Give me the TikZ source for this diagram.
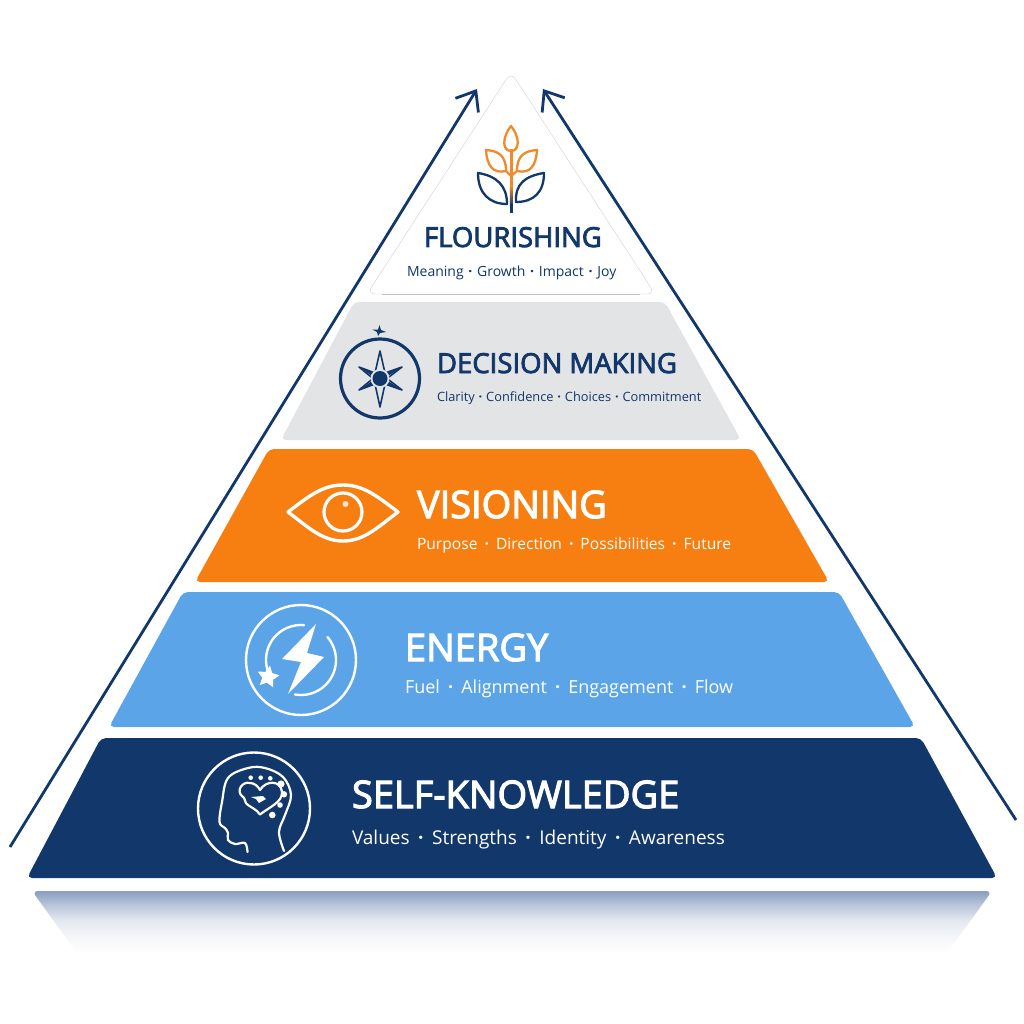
\documentclass[tikz,border=0pt]{standalone}
\usepackage{fontspec}
\setmainfont{Open Sans}
\newfontfamily\semifont[FakeBold=3]{Open Sans}
\usepackage{xcolor}
\usetikzlibrary{shapes.geometric, arrows.meta, positioning}

\definecolor{navyblue}{HTML}{12376A}
\definecolor{skyblue}{HTML}{5BA4E8}
\definecolor{sunorange}{HTML}{F77E10}
\definecolor{plantorange}{HTML}{F08A2A}
\definecolor{stonegray}{HTML}{E3E4E6}
\definecolor{mirrorblue}{HTML}{8A9EC0}

\pgfdeclareverticalshading{mirrorshade}{100bp}{color(0bp)=(white); color(30bp)=(white); color(43bp)=(mirrorblue!10); color(54bp)=(mirrorblue!24); color(65bp)=(mirrorblue!60); color(75bp)=(mirrorblue); color(100bp)=(mirrorblue)}

\tikzset{
    layer/.style={rounded corners=5pt},
    title/.style={anchor=base west, inner sep=0pt, outer sep=0pt},
    subtitle/.style={anchor=base west, inner sep=0pt, outer sep=0pt},
    climb/.style={draw=navyblue, line width=2.8pt, -{Straight Barb[length=17pt, width=27pt, line width=2.8pt]}},
    iconline/.style={line width=#1, line cap=round, line join=round},
    iconline/.default=2.6pt
}

\newcommand{\dotsep}[1][0.45em]{\hspace{#1}\textbf{·}\hspace{#1}}

\begin{document}
\begin{tikzpicture}[x=1pt, y=-1pt]
    \useasboundingbox (0,0) rectangle (1024,1024);

    \shade [shading=mirrorshade, rounded corners=6pt] (32,891) -- (992,891) -- (942,960) -- (82,960) -- cycle;

    \coordinate (leftfoot) at (10,847);
    \coordinate (lefthead) at (477,89);
    \coordinate (rightfoot) at (1016,820);
    \coordinate (righthead) at (543,89);
    \draw [climb] (leftfoot) -- (lefthead);
    \draw [climb] (rightfoot) -- (righthead);

    \draw [rounded corners=8pt, draw=black!18, fill=white] (511,72) -- (655,294) -- (367,294) -- cycle;
    \draw [black!24, line width=0.8pt] (382,294) -- (640,294);
    \fill [layer, stonegray] (354,302) -- (665,302) -- (741,440) -- (281,440) -- cycle;
    \fill [layer, sunorange] (269,449) -- (753,449) -- (829,582) -- (195,582) -- cycle;
    \fill [layer, skyblue] (183,592) -- (839,592) -- (915,727) -- (109,727) -- cycle;
    \fill [layer, navyblue] (101,738) -- (921,738) -- (997,878) -- (27,878) -- cycle;

    \node (flourishing) [title, text=navyblue, font=\semifont\fontsize{27.5}{30}\selectfont] at (424,247) {FLOURISHING};
    \node (flourishingsub) [subtitle, text=navyblue, font=\fontsize{14}{16}\selectfont, below=29pt of flourishing.base west, anchor=base west, xshift=-17pt] {Meaning\dotsep[0.34em]Growth\dotsep[0.34em]Impact\dotsep[0.34em]Joy};
    \node (decision) [title, text=navyblue, font=\semifont\fontsize{27.5}{32}\selectfont] at (437,373) {DECISION MAKING};
    \node (decisionsub) [subtitle, text=navyblue, font=\fontsize{12.8}{16}\selectfont, below=28pt of decision.base west, anchor=base west] {Clarity\dotsep[0.3em]Confidence\dotsep[0.3em]Choices\dotsep[0.3em]Commitment};
    \node (visioning) [title, text=white, font=\semifont\fontsize{38}{42}\selectfont] at (417,518) {VISIONING};
    \node (visioningsub) [subtitle, text=white, font=\fontsize{15.6}{18}\selectfont, below=31pt of visioning.base west, anchor=base west] {Purpose\dotsep Direction\dotsep Possibilities\dotsep Future};
    \node (energy) [title, text=white, font=\semifont\fontsize{38}{42}\selectfont] at (405,661) {ENERGY};
    \node (energysub) [subtitle, text=white, font=\fontsize{18}{20}\selectfont, below=32pt of energy.base west, anchor=base west] {Fuel\dotsep Alignment\dotsep Engagement\dotsep Flow};
    \node (selfknow) [title, text=white, font=\semifont\fontsize{38}{42}\selectfont] at (352,808) {SELF-KNOWLEDGE};
    \node (selfknowsub) [subtitle, text=white, font=\fontsize{19}{21}\selectfont, below=36pt of selfknow.base west, anchor=base west] {Values\dotsep Strengths\dotsep Identity\dotsep Awareness};

    % plant
    \draw [iconline=2.3pt, plantorange] (511,126) .. controls (502,137) and (502,151) .. (511,151) .. controls (520,151) and (520,137) .. (511,126) -- cycle;
    \draw [iconline=2.3pt, plantorange] (486,150) .. controls (498,151) and (506,155) .. (506,171) .. controls (493,174) and (487,166) .. (486,150) -- cycle (506,171) -- (511,176);
    \draw [iconline=2.3pt, plantorange] (537,150) .. controls (525,151) and (517,155) .. (517,171) .. controls (530,174) and (536,166) .. (537,150) -- cycle (517,171) -- (511,176);
    \draw [iconline=2.3pt, navyblue] (478,173) .. controls (497,176) and (507,186) .. (507,204) .. controls (489,204) and (478,193) .. (478,173) -- cycle;
    \draw [iconline=2.3pt, navyblue] (544,173) .. controls (525,176) and (515,184) .. (516,202) .. controls (534,202) and (544,192) .. (544,173) -- cycle;
    \fill [plantorange] (509.8,149) rectangle (512.6,190);
    \shade [top color=plantorange, bottom color=navyblue] (509.8,186) rectangle (512.6,206);
    \fill [navyblue] (509.8,204) rectangle (512.6,213);

    % compass
    \draw [navyblue, line width=3.2pt] (380,378.5) circle [radius=39.5];
    \draw [iconline=1.6pt, navyblue, fill=stonegray] (380,351) -- (385,373) -- (402,367) -- (387,378.5) -- (402,390) -- (385,384) -- (380,407) -- (375,384) -- (359,390) -- (373,378.5) -- (359,367) -- (375,373) -- cycle;
    \fill [navyblue] (385,373) -- (402,367) -- (388,376) -- cycle (385,384) -- (402,390) -- (388,381) -- cycle;
    \fill [navyblue] (375,373) -- (359,367) -- (372,376) -- cycle (375,384) -- (359,390) -- (372,381) -- cycle;
    \fill [stonegray] (380,378.5) circle [radius=9.5];
    \fill [navyblue] (380,378.5) circle [radius=7.5];
    \fill [navyblue] (379.5,325) -- (381,330) -- (386,332) -- (380,333) -- (378,336) -- (377,332) -- (372,329.5) -- (378,329.5) -- cycle;

    % eye
    \draw [iconline=3.4pt, white] (288,512) .. controls (308,497) and (322,485) .. (343,485) .. controls (364,485) and (378,497) .. (398,512) .. controls (378,527) and (364,541) .. (343,541) .. controls (322,541) and (308,527) .. (288,512) -- cycle;
    \draw [white, line width=3.2pt] (343,512) circle [radius=19];
    \fill [white!80!sunorange] (345.5,504) circle [radius=3];

    % bolt
    \draw [white, line width=2.4pt] (301,660) circle [radius=55];
    \draw [iconline=2.4pt, white] plot [domain=275:153, samples=30] ({301+35*cos(\x)},{660+35*sin(\x)});
    \draw [iconline=2.4pt, white] plot [domain=-41:100, samples=30] ({301+35*cos(\x)},{660+35*sin(\x)});
    \fill [white] (316,624) -- (282,659) -- (301,662) -- (288,694) -- (324,657) -- (307,653) -- cycle;
    \node (boltstar) [star, star points=5, star point ratio=2, fill=white, minimum size=23pt, inner sep=0pt, rotate=-10] at (268,677) {};

    % head
    \draw [white, line width=2.4pt] (254,808.5) circle [radius=56];
    \draw [iconline=2.2pt, white] plot [smooth, tension=0.6] coordinates {(284,851) (279,832) (285,815) (291,795) (283,777) (265,768) (248,768) (228,778) (222,802) (219.5,822) (225,828) (228,833) (228,840) (235,844) (245,843) (247.5,852)};
    \draw [iconline=2.2pt, white] (260,790) .. controls (266,780) and (281,780) .. (282,792) .. controls (283,802) and (268,808) .. (260,814.5) .. controls (256,809) and (252,808) .. (248,805) .. controls (244,803) and (246,798) .. (242,796) .. controls (236,791) and (242,781) .. (250,783) .. controls (254,783) and (258,786) .. (260,790) -- cycle;
    \fill [white] (251,797) -- (263,796) -- (266,799) -- (259,803) -- (256,799) -- cycle;
    \foreach \dotx/\doty/\dotr in {250.7/777.7/2.3, 260.7/777.7/2.3, 270.3/778.3/2.3, 281/784/3.6, 284/794.3/3.2, 280/805/2.8, 272.3/815/3.3} {
        \fill [white] (\dotx,\doty) circle [radius=\dotr];
    }
\end{tikzpicture}
\end{document}
